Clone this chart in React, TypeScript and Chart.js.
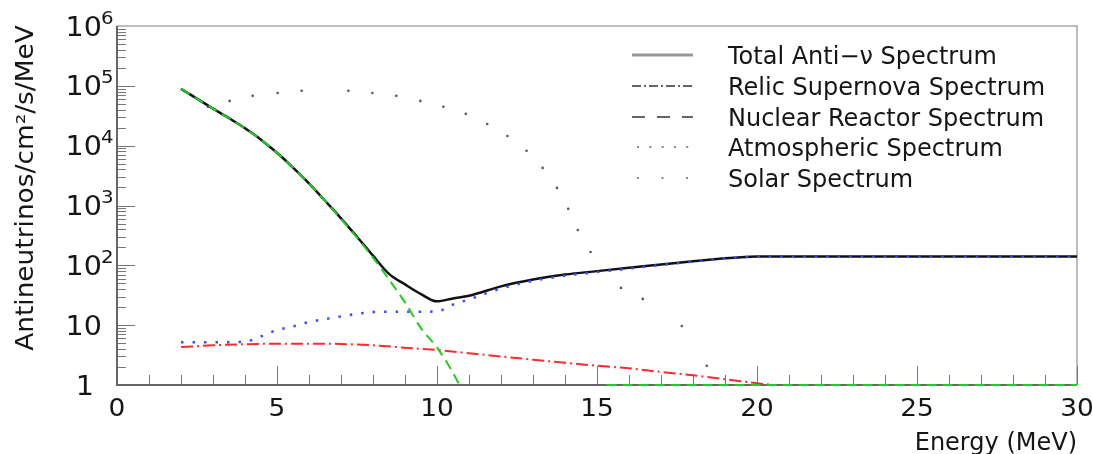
import React, { useEffect, useRef } from 'react';
import { Chart, registerables } from 'chart.js';

Chart.register(...registerables);

// ---------- data ----------
const totalE = [2, 2.5, 3, 3.5, 4, 4.5, 5, 5.5, 6, 6.5, 7, 7.5, 8, 8.5, 9, 9.5, 10, 10.5, 11, 12, 13, 14, 15, 16, 17, 18, 19, 19.5, 20, 22, 24, 26, 28, 30];
const totalFlux = [89000, 61000, 41700, 28800, 19500, 12600, 7600, 4300, 2340, 1200, 610, 300, 145, 72, 48, 33, 25, 28, 31, 44.5, 58, 70, 80, 91, 103, 117, 131, 137, 140, 140, 140, 140, 140, 140];

const relicE = [2, 3, 4, 5, 6, 7, 8, 9, 10, 11, 12, 13, 14, 15, 16, 17, 18, 19, 20, 20.5];
const relicFlux = [4.3, 4.6, 4.8, 4.9, 4.9, 4.85, 4.6, 4.2, 3.85, 3.4, 3.0, 2.65, 2.35, 2.1, 1.9, 1.65, 1.45, 1.25, 1.07, 1.0];

const reactorE = [2, 2.5, 3, 3.5, 4, 4.5, 5, 5.5, 6, 6.5, 7, 7.5, 8, 8.5, 9, 9.5, 10, 10.5, 10.7, 11, 13, 15.3, 20, 25, 30];
const reactorFlux = [89000, 61000, 41700, 28800, 19500, 12600, 7600, 4300, 2340, 1200, 600, 290, 135, 58, 24, 8.9, 4.2, 1.6, 1.0, 0.5, null, 1, 1, 1, 1];

const atmE = [2, 2.5, 3, 3.5, 4, 4.5, 5, 5.5, 6, 6.5, 7, 7.5, 8, 8.5, 9, 9.5, 10, 10.5, 11, 12, 13, 14, 15, 16, 17, 18, 19, 19.5, 20, 22, 24, 26, 28, 30];
const atmFlux = [5.2, 5.2, 5.2, 5.2, 5.3, 6.5, 8.3, 9.5, 11.3, 12.6, 14, 15.5, 16.6, 16.8, 16.8, 16.8, 17, 22, 27, 41, 55, 67, 77, 88, 101, 116, 130, 136, 139, 139, 139, 139, 139, 139];

const solarE = [2.84, 3.52, 4.24, 5.02, 5.77, 7.23, 7.98, 8.73, 9.48, 10.2, 10.9, 11.57, 12.2, 12.8, 13.3, 13.75, 14.1, 14.4, 14.8, 15.75, 16.43, 17.65, 18.43];
const solarFlux = [44600, 56000, 68000, 76000, 83000, 83000, 76000, 68000, 56000, 44600, 34000, 23000, 14500, 8200, 4250, 1970, 880, 390, 167, 42, 27.5, 9.7, 2.1];

const xTickLabels = ['0', '5', '10', '15', '20', '25', '30'];
const xTickValues = [0, 5, 10, 15, 20, 25, 30];
const yDecades = [0, 1, 2, 3, 4, 5, 6];

const legendLabels = [
  'Total Anti\u2212\u03bd Spectrum',
  'Relic Supernova Spectrum',
  'Nuclear Reactor Spectrum',
  'Atmospheric Spectrum',
  'Solar Spectrum',
];
const xTitle = 'Energy (MeV)';
const yTitle = 'Antineutrinos/cm\u00b2/s/MeV';

const pts = (xs: number[], ys: (number | null)[]) => xs.map((x, i) => ({ x, y: ys[i] }));

const FONT = '"DejaVu Sans", sans-serif';

function drawText(ctx: CanvasRenderingContext2D, s: string, x: number, y: number, align: CanvasTextAlign, size: number, sx = 1.0) {
  ctx.save();
  ctx.font = `${size}px ${FONT}`;
  ctx.textAlign = align;
  ctx.textBaseline = 'alphabetic';
  ctx.translate(x, y);
  ctx.scale(sx, 1);
  ctx.fillText(s, 0, 0);
  ctx.restore();
}

const framePlugin = {
  id: 'rootFrame',
  beforeDatasetsDraw(chart: any) {
    const { ctx, chartArea: a, scales } = chart;
    const xs = scales.x;
    const ys = scales.y;
    ctx.save();
    // top and right border
    ctx.strokeStyle = '#a8a8a8';
    ctx.lineWidth = 1.5;
    ctx.beginPath();
    ctx.moveTo(a.left, a.top);
    ctx.lineTo(a.right, a.top);
    ctx.lineTo(a.right, a.bottom);
    ctx.stroke();
    // ticks
    ctx.strokeStyle = '#777';
    ctx.lineWidth = 1;
    ctx.beginPath();
    for (let v = 0; v <= 30; v++) {
      const px = Math.round(xs.getPixelForValue(v)) + 0.5;
      const len = v % 5 === 0 ? 19 : 10;
      ctx.moveTo(px, a.bottom);
      ctx.lineTo(px, a.bottom - len);
    }
    for (let n = 0; n < 6; n++) {
      for (let m = 1; m <= 9; m++) {
        const py = Math.round(ys.getPixelForValue(m * Math.pow(10, n))) + 0.5;
        const len = m === 1 ? 18 : 9;
        ctx.moveTo(a.left, py);
        ctx.lineTo(a.left + len, py);
      }
    }
    ctx.stroke();
    // left and bottom axes
    ctx.strokeStyle = '#666';
    ctx.lineWidth = 2;
    ctx.beginPath();
    ctx.moveTo(a.left, a.top);
    ctx.lineTo(a.left, a.bottom);
    ctx.lineTo(a.right, a.bottom);
    ctx.stroke();
    ctx.restore();
  },
  afterDraw(chart: any) {
    const { ctx, chartArea: a, scales } = chart;
    const xs = scales.x;
    const ys = scales.y;
    ctx.save();
    ctx.fillStyle = '#151515';
    // x tick labels
    xTickValues.forEach((v, i) => {
      drawText(ctx, xTickLabels[i], xs.getPixelForValue(v), 416, 'center', 24, 1.1);
    });
    // y tick labels
    yDecades.forEach((n) => {
      const py = ys.getPixelForValue(Math.pow(10, n));
      if (n === 0) {
        drawText(ctx, '1', 94, py + 9.5, 'right', 26, 1.1);
      } else if (n === 1) {
        drawText(ctx, '10', 102, py + 9.5, 'right', 26, 1.1);
      } else {
        drawText(ctx, '10', 102, py + 9.5, 'right', 26, 1.1);
        drawText(ctx, String(n), 101, py - 2.5, 'left', 18, 1.1);
      }
    });
    // axis titles
    drawText(ctx, xTitle, a.right, 450, 'right', 24, 1.0);
    ctx.save();
    ctx.translate(33, 188);
    ctx.rotate(-Math.PI / 2);
    drawText(ctx, yTitle, 0, 0, 'center', 24, 1.1);
    ctx.restore();

    // legend
    const rows = [55, 86, 117, 147, 178];
    const x0 = 632;
    const x1 = 693;
    ctx.lineCap = 'butt';
    // total
    ctx.strokeStyle = '#999';
    ctx.lineWidth = 3;
    ctx.setLineDash([]);
    ctx.beginPath();
    ctx.moveTo(x0, rows[0]);
    ctx.lineTo(x1, rows[0]);
    ctx.stroke();
    // relic
    ctx.strokeStyle = '#333';
    ctx.lineWidth = 1.5;
    ctx.setLineDash([9, 3, 2, 3]);
    ctx.beginPath();
    ctx.moveTo(x0, rows[1]);
    ctx.lineTo(x1, rows[1]);
    ctx.stroke();
    // nuclear
    ctx.setLineDash([13, 12]);
    ctx.beginPath();
    ctx.moveTo(x0, rows[2]);
    ctx.lineTo(x1, rows[2]);
    ctx.stroke();
    ctx.setLineDash([]);
    // atmospheric dots
    ctx.fillStyle = '#888';
    for (let k = 0; k < 5; k++) ctx.fillRect(637 + k * 12.3, rows[3] - 1, 2, 2);
    // solar dots
    for (let k = 0; k < 3; k++) ctx.fillRect(637 + k * 24.5, rows[4] - 1, 2, 2);
    ctx.fillStyle = '#151515';
    legendLabels.forEach((s, i) => {
      drawText(ctx, s, 728, rows[i] + 8.7, 'left', 24, 1.0);
    });
    ctx.restore();
  },
};

export default function App() {
  const ref = useRef<HTMLCanvasElement | null>(null);
  useEffect(() => {
    if (!ref.current) return;
    const chart = new Chart(ref.current, {
      type: 'line',
      data: {
        datasets: [
          {
            label: 'Solar Spectrum',
            data: pts(solarE, solarFlux),
            showLine: false,
            pointRadius: 1.3,
            pointBackgroundColor: '#555',
            pointBorderWidth: 0,
            borderColor: '#555',
          },
          {
            label: 'Atmospheric Spectrum',
            data: pts(atmE, atmFlux),
            borderColor: '#3a4cff',
            borderWidth: 2.5,
            borderDash: [2.5, 9],
            pointRadius: 0,
            cubicInterpolationMode: 'monotone',
          },
          {
            label: 'Nuclear Reactor Spectrum',
            data: pts(reactorE, reactorFlux),
            borderColor: '#22cc22',
            borderWidth: 2,
            borderDash: [10, 6],
            pointRadius: 0,
            spanGaps: false,
            cubicInterpolationMode: 'monotone',
            clip: { left: 0, top: 0, right: 0, bottom: 2 },
          },
          {
            label: 'Relic Supernova Spectrum',
            data: pts(relicE, relicFlux),
            borderColor: '#ff2a2a',
            borderWidth: 2,
            borderDash: [12, 4, 2, 4],
            pointRadius: 0,
            cubicInterpolationMode: 'monotone',
          },
          {
            label: 'Total Anti-\u03bd Spectrum',
            data: pts(totalE, totalFlux),
            borderColor: '#111',
            borderWidth: 2.5,
            pointRadius: 0,
            cubicInterpolationMode: 'monotone',
          },
        ] as any,
      },
      options: {
        animation: false,
        responsive: false,
        maintainAspectRatio: false,
        devicePixelRatio: 1,
        layout: { padding: { left: 117, right: 16, top: 26, bottom: 69 } },
        scales: {
          x: { type: 'linear', min: 0, max: 30, display: false },
          y: { type: 'logarithmic', min: 1, max: 1e6, display: false },
        },
        plugins: {
          legend: { display: false },
          tooltip: { enabled: false },
        },
      } as any,
      plugins: [framePlugin],
    });
    return () => chart.destroy();
  }, []);
  return (
    <div style={{ position: 'fixed', left: 0, top: 0, width: 1093, height: 454, background: '#fff' }}>
      <canvas ref={ref} width={1093} height={454} style={{ display: 'block', width: 1093, height: 454 }} />
    </div>
  );
}
